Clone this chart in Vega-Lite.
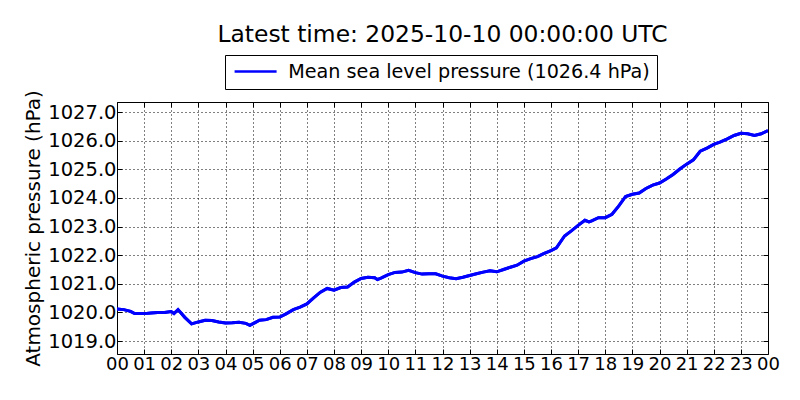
{
  "$schema": "https://vega.github.io/schema/vega-lite/v6.json",
  "width": 651,
  "height": 252,
  "autosize": {"type": "none"},
  "padding": {"left": 117, "top": 102, "right": 32, "bottom": 46},
  "background": "white",
  "config": {
    "font": "DejaVu Sans",
    "view": {"stroke": "black", "strokeWidth": 1},
    "axis": {
      "labelFont": "DejaVu Sans",
      "titleFont": "DejaVu Sans",
      "labelColor": "black",
      "titleColor": "black",
      "domain": false,
      "tickColor": "black",
      "tickSize": -5,
      "gridColor": "black",
      "gridDash": [1, 3],
      "gridOpacity": 1,
      "gridWidth": 1
    }
  },
  "title": {
    "text": "Latest time: 2025-10-10 00:00:00 UTC",
    "font": "DejaVu Sans",
    "fontSize": 23.4,
    "fontWeight": "normal",
    "color": "black",
    "anchor": "middle",
    "frame": "group",
    "offset": 7
  },
  "data": {
    "values": [
      {"h": 0, "p": 1020.12}, {"h": 0.25, "p": 1020.1}, {"h": 0.5, "p": 1020.04}, {"h": 0.65, "p": 1019.96},
      {"h": 1, "p": 1019.96}, {"h": 1.25, "p": 1019.98}, {"h": 1.5, "p": 1020.0}, {"h": 1.75, "p": 1020.0},
      {"h": 2, "p": 1020.03}, {"h": 2.1, "p": 1019.96}, {"h": 2.25, "p": 1020.1}, {"h": 2.5, "p": 1019.83},
      {"h": 2.75, "p": 1019.6}, {"h": 3, "p": 1019.67}, {"h": 3.25, "p": 1019.73}, {"h": 3.5, "p": 1019.72},
      {"h": 3.75, "p": 1019.67}, {"h": 4, "p": 1019.63}, {"h": 4.25, "p": 1019.64}, {"h": 4.5, "p": 1019.66},
      {"h": 4.75, "p": 1019.62}, {"h": 4.9, "p": 1019.55}, {"h": 5, "p": 1019.6}, {"h": 5.25, "p": 1019.73},
      {"h": 5.5, "p": 1019.75}, {"h": 5.75, "p": 1019.83}, {"h": 6, "p": 1019.84}, {"h": 6.25, "p": 1019.96},
      {"h": 6.5, "p": 1020.1}, {"h": 6.75, "p": 1020.19}, {"h": 7, "p": 1020.3}, {"h": 7.25, "p": 1020.51},
      {"h": 7.5, "p": 1020.71}, {"h": 7.75, "p": 1020.84}, {"h": 8, "p": 1020.78}, {"h": 8.25, "p": 1020.87},
      {"h": 8.5, "p": 1020.89}, {"h": 8.75, "p": 1021.06}, {"h": 9, "p": 1021.19}, {"h": 9.25, "p": 1021.23},
      {"h": 9.5, "p": 1021.21}, {"h": 9.6, "p": 1021.15}, {"h": 9.75, "p": 1021.21}, {"h": 10, "p": 1021.32},
      {"h": 10.25, "p": 1021.4}, {"h": 10.5, "p": 1021.41}, {"h": 10.75, "p": 1021.47}, {"h": 11, "p": 1021.39},
      {"h": 11.25, "p": 1021.34}, {"h": 11.5, "p": 1021.35}, {"h": 11.75, "p": 1021.35}, {"h": 12, "p": 1021.27},
      {"h": 12.25, "p": 1021.21}, {"h": 12.5, "p": 1021.18}, {"h": 12.75, "p": 1021.23}, {"h": 13, "p": 1021.29},
      {"h": 13.25, "p": 1021.35}, {"h": 13.5, "p": 1021.41}, {"h": 13.75, "p": 1021.46}, {"h": 14, "p": 1021.42},
      {"h": 14.25, "p": 1021.5}, {"h": 14.5, "p": 1021.58}, {"h": 14.75, "p": 1021.65}, {"h": 15, "p": 1021.79},
      {"h": 15.25, "p": 1021.88}, {"h": 15.5, "p": 1021.95}, {"h": 15.75, "p": 1022.06}, {"h": 16, "p": 1022.16},
      {"h": 16.2, "p": 1022.26}, {"h": 16.5, "p": 1022.67}, {"h": 16.75, "p": 1022.85}, {"h": 17, "p": 1023.04},
      {"h": 17.25, "p": 1023.22}, {"h": 17.4, "p": 1023.16}, {"h": 17.5, "p": 1023.2}, {"h": 17.75, "p": 1023.31},
      {"h": 18, "p": 1023.31}, {"h": 18.25, "p": 1023.43}, {"h": 18.5, "p": 1023.72}, {"h": 18.75, "p": 1024.05},
      {"h": 19, "p": 1024.13}, {"h": 19.25, "p": 1024.17}, {"h": 19.5, "p": 1024.33}, {"h": 19.75, "p": 1024.45},
      {"h": 20, "p": 1024.52}, {"h": 20.25, "p": 1024.66}, {"h": 20.5, "p": 1024.82}, {"h": 20.75, "p": 1025.01},
      {"h": 21, "p": 1025.18}, {"h": 21.25, "p": 1025.33}, {"h": 21.5, "p": 1025.63}, {"h": 21.75, "p": 1025.74},
      {"h": 22, "p": 1025.87}, {"h": 22.25, "p": 1025.96}, {"h": 22.5, "p": 1026.06}, {"h": 22.75, "p": 1026.18},
      {"h": 23, "p": 1026.26}, {"h": 23.25, "p": 1026.24}, {"h": 23.5, "p": 1026.18}, {"h": 23.75, "p": 1026.24},
      {"h": 24, "p": 1026.35}
    ]
  },
  "layer": [
    {
      "mark": {"type": "line", "strokeWidth": 3, "clip": true},
      "encoding": {
        "x": {
          "field": "h", "type": "quantitative",
          "scale": {"domain": [0, 24], "nice": false, "zero": false},
          "axis": {
            "orient": "bottom", "title": null,
            "values": [0,1,2,3,4,5,6,7,8,9,10,11,12,13,14,15,16,17,18,19,20,21,22,23,24],
            "labelExpr": "(datum.value % 24 < 10 ? '0' : '') + (datum.value % 24)",
            "labelFontSize": 18, "labelPadding": 6, "labelFlush": false, "labelOverlap": false
          }
        },
        "y": {
          "field": "p", "type": "quantitative",
          "scale": {"domain": [1018.55, 1027.35], "nice": false, "zero": false},
          "axis": {
            "orient": "left", "title": "Atmospheric pressure (hPa)",
            "values": [1019,1020,1021,1022,1023,1024,1025,1026,1027],
            "format": ".1f", "labelFontSize": 19.5, "labelPadding": 6,
            "titleFontSize": 20, "titleFontWeight": "normal", "titlePadding": 4
          }
        },
        "color": {
          "datum": "Mean sea level pressure (1026.4 hPa)",
          "type": "nominal",
          "scale": {"range": ["#0000ff"]},
          "legend": {
            "title": null, "orient": "none", "legendX": 108, "legendY": -47,
            "strokeColor": "black", "fillColor": "white", "padding": 7,
            "symbolType": "M-1,0H5", "symbolSize": 196, "symbolStrokeWidth": 2.5,
            "symbolFillColor": "transparent",
            "labelFontSize": 19.2, "labelFont": "DejaVu Sans", "labelColor": "black",
            "labelOffset": 37, "labelLimit": 600
          }
        }
      }
    },
    {
      "mark": {"type": "line", "strokeWidth": 3, "clip": true},
      "encoding": {
        "x": {
          "field": "h", "type": "quantitative",
          "scale": {"domain": [0, 24], "nice": false, "zero": false},
          "axis": {
            "orient": "top", "title": null, "labels": false, "grid": false,
            "values": [0,1,2,3,4,5,6,7,8,9,10,11,12,13,14,15,16,17,18,19,20,21,22,23,24]
          }
        },
        "y": {
          "field": "p", "type": "quantitative",
          "scale": {"domain": [1018.55, 1027.35], "nice": false, "zero": false},
          "axis": {
            "orient": "right", "title": null, "labels": false, "grid": false,
            "values": [1019,1020,1021,1022,1023,1024,1025,1026,1027]
          }
        },
        "color": {"value": "#0000ff"}
      }
    }
  ],
  "resolve": {"axis": {"x": "independent", "y": "independent"}}
}
